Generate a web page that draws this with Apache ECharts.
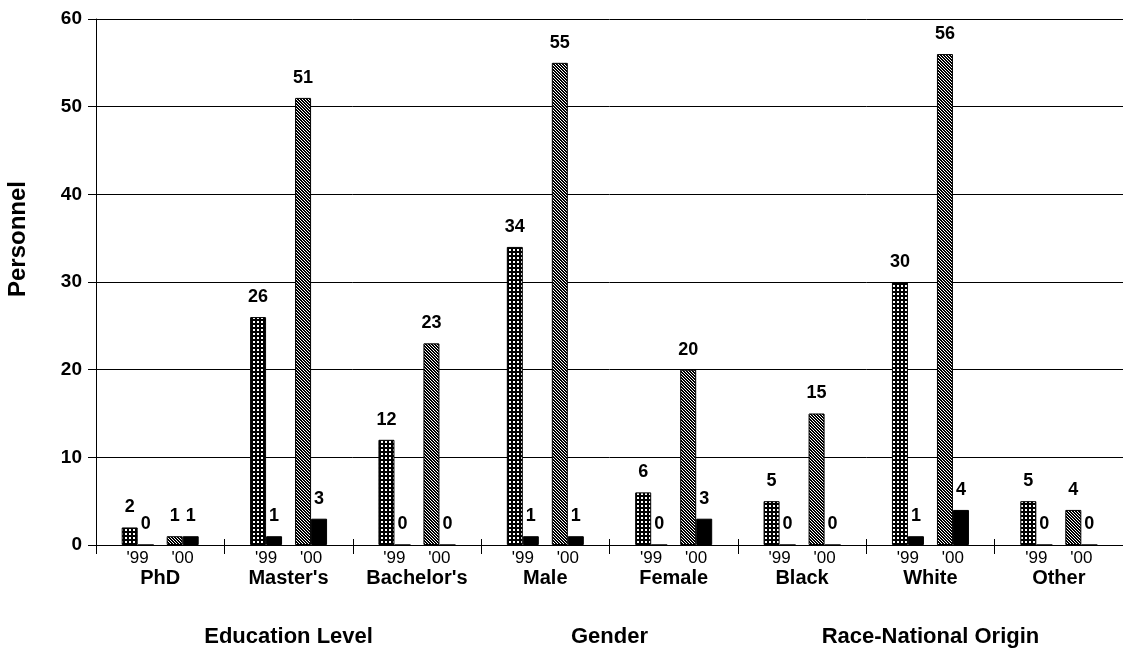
<!DOCTYPE html>
<html>
<head>
<meta charset="utf-8">
<title>Personnel by Education, Gender and Race</title>
<script src="https://cdn.jsdelivr.net/npm/echarts@6/dist/echarts.min.js"></script>
<style>
  html, body { margin: 0; padding: 0; background: #fff; }
  #chart { width: 1123px; height: 652px; }
</style>
</head>
<body>
<div id="chart"></div>
<script>
// Categories
const groups = ['PhD', "Master's", "Bachelor's", 'Male', 'Female', 'Black', 'White', 'Other'];
const yearLabels = ["'99", "'00"];
const sections = ['Education Level', 'Gender', 'Race-National Origin'];
const sectionSpans = [[0, 2], [3, 4], [5, 7]];

// Values per group
const total99 = [2, 26, 12, 34, 6, 5, 30, 5];
const part99  = [0, 1, 0, 1, 0, 0, 1, 0];
const total00 = [1, 51, 23, 55, 20, 15, 56, 4];
const part00  = [1, 3, 0, 1, 3, 0, 4, 0];

// Y axis ticks
const yMin = 0, yMax = 60, yStep = 10;

const FONT = '"Liberation Sans", Arial, sans-serif';

// Fill patterns: dark grid with white dots, and dense diagonal hatch
function gridPattern() {
  const c = document.createElement('canvas');
  c.width = 4; c.height = 4;
  const g = c.getContext('2d');
  g.fillStyle = '#000'; g.fillRect(0, 0, 4, 4);
  g.fillStyle = '#fff'; g.fillRect(1, 1, 2, 2);
  return c;
}
function hatchPattern() {
  const n = 3;
  const c = document.createElement('canvas');
  c.width = n; c.height = n;
  const g = c.getContext('2d');
  g.fillStyle = '#fff'; g.fillRect(0, 0, n, n);
  g.fillStyle = '#000';
  for (let y = 0; y < n; y++) {
    for (let x = 0; x < n; x++) {
      const d = ((x - y) % n + n) % n;
      if (d === 0 || d === 1) g.fillRect(x, y, 1, 1);
    }
  }
  return c;
}

const chart = echarts.init(document.getElementById('chart'), null, { renderer: 'canvas' });

const labelStyle = {
  show: true,
  position: 'top',
  distance: 11,
  color: '#000',
  fontFamily: FONT,
  fontWeight: 'bold',
  fontSize: 18
};
const border = { borderColor: '#000', borderWidth: 1 };
const BW = 16;

function barSeries(name, data, color) {
  return {
    name: name,
    type: 'bar',
    xAxisIndex: 0,
    yAxisIndex: 0,
    barWidth: BW,
    barGap: '0%',
    data: data,
    itemStyle: Object.assign({ color: color }, border),
    label: labelStyle,
    emphasis: { disabled: true },
    animation: false
  };
}

const option = {
  backgroundColor: '#fff',
  animation: false,
  grid: { left: 96, right: -6, top: 19, bottom: 107, containLabel: false },
  xAxis: [
    {
      type: 'category',
      data: groups,
      axisLine: { show: true, lineStyle: { color: '#000', width: 1 } },
      axisTick: { show: true, length: 9, lineStyle: { color: '#000', width: 1 } },
      axisLabel: {
        margin: 4,
        interval: 0,
        color: '#000',
        fontFamily: FONT,
        formatter: function (v) {
          return '{y|' + yearLabels[0] + '}{y|' + yearLabels[1] + '}\n{g|' + v + '}';
        },
        rich: {
          y: { width: 45, align: 'center', fontSize: 17, fontFamily: FONT, color: '#000', lineHeight: 18 },
          g: { fontSize: 20, fontWeight: 'bold', fontFamily: FONT, color: '#000', lineHeight: 22 }
        }
      },
      splitLine: { show: false }
    },
    {
      type: 'category',
      data: groups,
      position: 'bottom',
      axisLine: { show: false },
      axisTick: { show: true, inside: true, length: 6, lineStyle: { color: '#000', width: 1 } },
      axisLabel: { show: false },
      splitLine: { show: false }
    }
  ],
  yAxis: {
    type: 'value',
    min: yMin,
    max: yMax,
    interval: yStep,
    axisLine: { show: true, lineStyle: { color: '#000', width: 1 } },
    axisTick: { show: true, length: 8, lineStyle: { color: '#000' } },
    axisLabel: { margin: 14, color: '#000', fontFamily: FONT, fontWeight: 'bold', fontSize: 19 },
    splitLine: { show: true, lineStyle: { color: '#000', width: 1 } }
  },
  series: [
    barSeries("'99 total", total99, { image: gridPattern(), repeat: 'repeat' }),
    barSeries("'99 part", part99, '#000'),
    { name: 'gap', type: 'bar', barWidth: 13, barGap: '0%', data: groups.map(() => null), silent: true },
    barSeries("'00 total", total00, { image: hatchPattern(), repeat: 'repeat' }),
    barSeries("'00 part", part00, '#000')
  ]
};

chart.setOption(option);

// Section titles under the axis and the y-axis title
function sectionCenter(span) {
  const a = chart.convertToPixel({ xAxisIndex: 0 }, span[0]);
  const b = chart.convertToPixel({ xAxisIndex: 0 }, span[1]);
  return (a + b) / 2;
}
const graphics = sections.map((s, i) => ({
  type: 'text',
  x: sectionCenter(sectionSpans[i]),
  y: 637,
  style: {
    text: s,
    fill: '#000',
    font: 'bold 22px ' + FONT,
    textAlign: 'center',
    textVerticalAlign: 'middle'
  }
}));
graphics.push({
  type: 'text',
  x: 18,
  y: 239,
  rotation: Math.PI / 2,
  style: {
    text: 'Personnel',
    fill: '#000',
    font: 'bold 24px ' + FONT,
    textAlign: 'center',
    textVerticalAlign: 'middle'
  }
});
chart.setOption({ graphic: graphics });
</script>
</body>
</html>
